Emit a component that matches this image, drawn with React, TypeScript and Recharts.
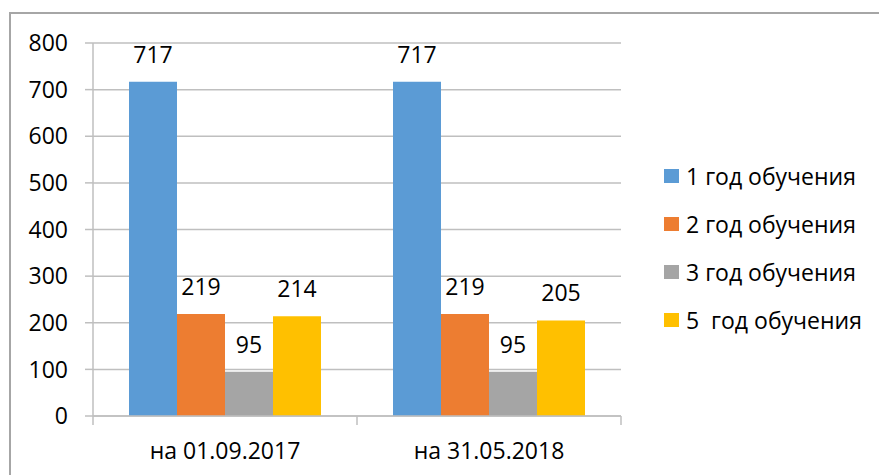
import React from 'react';
import { BarChart, Bar, XAxis, YAxis, CartesianGrid, Legend, LabelList } from 'recharts';

const categories = ['на 01.09.2017', 'на 31.05.2018'];
const year1 = [717, 717];
const year2 = [219, 219];
const year3 = [95, 95];
const year5 = [214, 205];
const seriesNames = ['1 год обучения', '2 год обучения', '3 год обучения', '5  год обучения'];
const seriesColors = ['#5B9BD5', '#ED7D31', '#A5A5A5', '#FFC000'];
const yTicks = [0, 100, 200, 300, 400, 500, 600, 700, 800];

const data = categories.map((c, i) => ({
  name: c,
  s1: year1[i],
  s2: year2[i],
  s3: year3[i],
  s5: year5[i],
}));

const FONT = '"Open Sans", sans-serif';
const FS = 23;
const GRID = '#bfbfbf';
const TICK_SIZE = 8;
const TICK_MARGIN = 10;

const CategoryTick = (props: any) => {
  const { x, y, payload, index, visibleTicksCount } = props;
  const axisY = y - TICK_SIZE - TICK_MARGIN;
  const half = payload.offset || 0;
  const isLast = index === visibleTicksCount - 1;
  return (
    <g>
      <line x1={x - half} x2={x - half} y1={axisY} y2={axisY + 9} stroke={GRID} strokeWidth={1.5} />
      {isLast && (
        <line x1={x + half} x2={x + half} y1={axisY} y2={axisY + 9} stroke={GRID} strokeWidth={1.5} />
      )}
      <text x={x} y={axisY + 43} textAnchor="middle" fontFamily={FONT} fontSize={FS} fill="#000">
        {payload.value}
      </text>
    </g>
  );
};

const LegendContent = (props: any) => {
  const { payload } = props;
  return (
    <div style={{ fontFamily: FONT, fontSize: FS, color: '#000' }}>
      {(payload || []).map((p: any, i: number) => (
        <div key={i} style={{ height: 48, display: 'flex', alignItems: 'center', whiteSpace: 'pre' }}>
          <span style={{ display: 'inline-block', width: 15, height: 14, background: p.color, marginRight: 7 }} />
          <span>{p.value}</span>
        </div>
      ))}
    </div>
  );
};

export default function App() {
  const keys = ['s1', 's2', 's3', 's5'];
  return (
    <div style={{ position: 'absolute', left: 0, top: 0, width: 879, height: 475, background: '#fff', overflow: 'hidden' }}>
      <div
        style={{
          position: 'absolute',
          left: 9,
          top: 12,
          width: 900,
          height: 500,
          borderTop: '2px solid #a6a6a6',
          borderLeft: '2px solid #a6a6a6',
        }}
      />
      <div style={{ position: 'absolute', left: 0, top: 0 }}>
        <BarChart
          width={879}
          height={475}
          data={data}
          margin={{ top: 43, right: 258, bottom: 0, left: 0 }}
          barCategoryGap={36}
          barGap={0}
        >
          <CartesianGrid vertical={false} stroke={GRID} strokeWidth={1.5} />
          <YAxis
            width={93}
            domain={[0, 800]}
            ticks={yTicks}
            interval={0}
            tickSize={8}
            tickMargin={17}
            axisLine={{ stroke: GRID, strokeWidth: 1.5 }}
            tickLine={{ stroke: GRID, strokeWidth: 1.5 }}
            tick={{ fontFamily: FONT, fontSize: FS, fill: '#000' }}
          />
          <XAxis
            dataKey="name"
            height={59}
            interval={0}
            tickSize={TICK_SIZE}
            tickMargin={TICK_MARGIN}
            tickLine={false}
            axisLine={{ stroke: GRID, strokeWidth: 1.5 }}
            tick={<CategoryTick />}
          />
          <Legend
            layout="horizontal"
            align="center"
            verticalAlign="middle"
            content={<LegendContent />}
            wrapperStyle={{ position: 'absolute', left: 664, top: 152, width: 210, right: 'auto', bottom: 'auto' }}
          />
          {keys.map((k, i) => (
            <Bar key={k} dataKey={k} name={seriesNames[i]} fill={seriesColors[i]} isAnimationActive={false}>
              <LabelList dataKey={k} position="top" offset={19} style={{ fontFamily: FONT, fontSize: FS, fill: '#000' }} />
            </Bar>
          ))}
        </BarChart>
      </div>
    </div>
  );
}
